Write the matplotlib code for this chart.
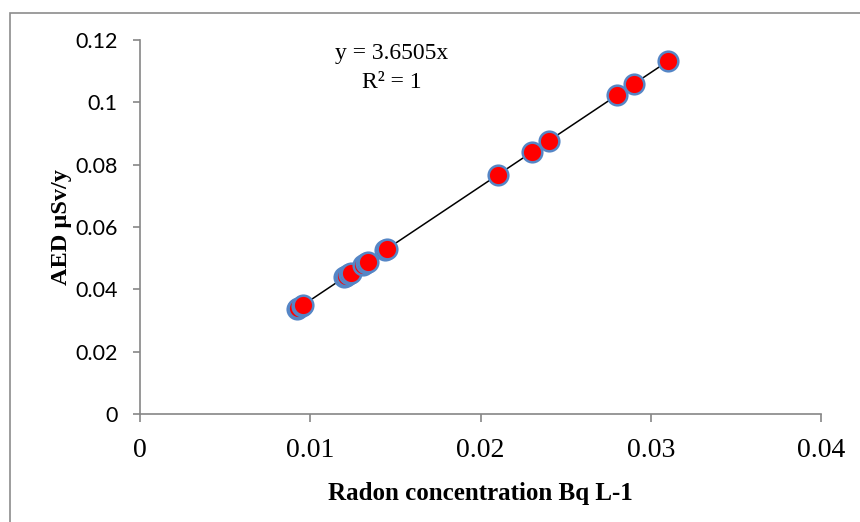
import numpy as np
import matplotlib.pyplot as plt
from matplotlib.patches import Rectangle

# Radon concentration (Bq L-1) and annual effective dose (uSv/y)
radon = np.array([0.0092, 0.0093, 0.0095, 0.0096, 0.0120, 0.0121, 0.0123, 0.0124,
                  0.0131, 0.0133, 0.0134, 0.0144, 0.0145, 0.0210, 0.0230, 0.0240,
                  0.0280, 0.0290, 0.0310])
aed = np.array([0.0336, 0.0339, 0.0347, 0.0350, 0.0438, 0.0442, 0.0449, 0.0453,
                0.0478, 0.0486, 0.0489, 0.0526, 0.0529, 0.0767, 0.0840, 0.0876,
                0.1022, 0.1059, 0.1132])

x_ticks = [0, 0.01, 0.02, 0.03, 0.04]
x_labels = ["0", "0.01", "0.02", "0.03", "0.04"]
y_ticks = [0, 0.02, 0.04, 0.06, 0.08, 0.1, 0.12]
y_labels = ["0", "0.02", "0.04", "0.06", "0.08", "0.1", "0.12"]

axis_grey = "#868686"

fig = plt.figure(figsize=(8.6, 5.22), dpi=100)
ax = fig.add_axes([140 / 860, 1 - 414 / 522, 681 / 860, 374 / 522])

# outer chart border
fig.add_artist(Rectangle((10 / 860, -0.1), 1.0, 1 - 13 / 522 + 0.1,
                         transform=fig.transFigure, fill=False,
                         edgecolor="#8c8c8c", linewidth=1.2))

# linear trend through origin
slope = np.sum(radon * aed) / np.sum(radon * radon)
xl = np.array([radon.min(), radon.max()])
ax.plot(xl, slope * xl, color="black", linewidth=1.1, zorder=2)

ax.scatter(radon, aed, s=200, facecolor="#ff0000", edgecolor="#5586c6",
           linewidth=1.8, zorder=3)

ax.text(0.0148, 0.1158, "y = 3.6505x", ha="center", va="center",
        fontsize=17, family="Liberation Serif")
ax.text(0.0148, 0.1065, "R² = 1", ha="center", va="center",
        fontsize=17, family="Liberation Serif")

ax.set_xlim(0, 0.04)
ax.set_ylim(0, 0.12)
ax.set_xticks(x_ticks)
ax.set_xticklabels(x_labels, family="Liberation Serif", fontsize=20)
ax.set_yticks(y_ticks)
ax.set_yticklabels(y_labels, family="Lato", fontsize=15.5)

for side in ["top", "right"]:
    ax.spines[side].set_visible(False)
for side in ["left", "bottom"]:
    ax.spines[side].set_color(axis_grey)
    ax.spines[side].set_linewidth(1.2)
ax.tick_params(axis="x", direction="out", length=6, width=1.2, color=axis_grey, pad=11)
ax.tick_params(axis="y", direction="out", length=5, width=1.2, color=axis_grey, pad=11)

ax.set_xlabel("Radon concentration Bq L-1", family="Liberation Serif",
              fontweight="bold", fontsize=18, labelpad=14)
ax.set_ylabel("AED µSv/y", family="Liberation Serif", fontweight="bold",
              fontsize=17.5, labelpad=2)

fig.savefig("out.png", dpi=100)
